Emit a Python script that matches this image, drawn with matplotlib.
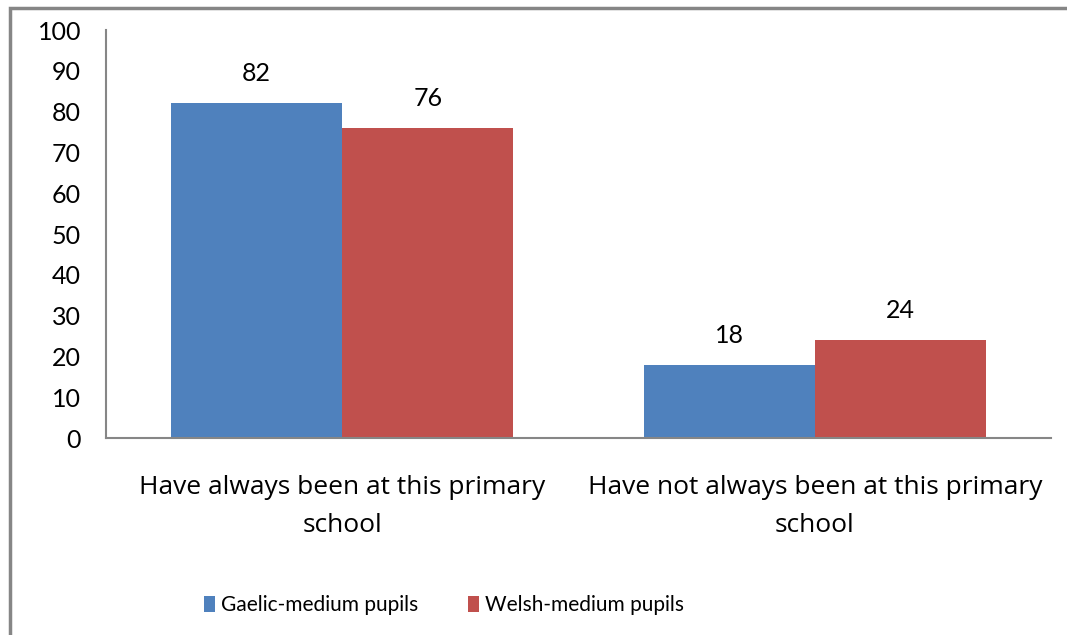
import matplotlib.pyplot as plt
from matplotlib.patches import Rectangle
import numpy as np

plt.rcParams['font.family'] = ['Lato', 'DejaVu Sans']

# Datos
categorias = ['Have always been at this primary\nschool',
              'Have not always been at this primary\nschool']
gaelic = [82, 18]
welsh = [76, 24]
series = ['Gaelic-medium pupils', 'Welsh-medium pupils']
colores = ['#4F81BD', '#C0504D']

fig = plt.figure(figsize=(10.67, 6.35), dpi=100)
ax = fig.add_axes([106 / 1067, 1 - 438 / 635, (1051 - 106) / 1067, (438 - 30) / 635])

x = np.arange(len(categorias))
w = 0.362
b1 = ax.bar(x - w / 2, gaelic, w, color=colores[0], label=series[0])
b2 = ax.bar(x + w / 2, welsh, w, color=colores[1], label=series[1])
ax.bar_label(b1, padding=13, fontsize=18)
ax.bar_label(b2, padding=13, fontsize=18)

ax.set_xlim(-0.5, 1.5)
ax.set_ylim(0, 100)
ax.set_yticks(range(0, 101, 10))
ax.set_xticks(x)
ax.set_xticklabels(categorias, fontsize=19, linespacing=1.65,
                   family=['Open Sans', 'DejaVu Sans'])
ax.tick_params(axis='y', length=0, labelsize=18, pad=18)
ax.tick_params(axis='x', length=0, pad=27)

for s in ['top', 'right']:
    ax.spines[s].set_visible(False)
for s in ['left', 'bottom']:
    ax.spines[s].set_color('#868686')
    ax.spines[s].set_linewidth(1.5)

# Borde exterior del gráfico
fig.patches.append(Rectangle((10 / 1067, -0.1), 1.2, 1 - 8 / 635 + 0.1,
                             transform=fig.transFigure, fill=False,
                             edgecolor='#868686', linewidth=2.5))

fig.legend(handles=[b1, b2], labels=series, loc='center', ncol=2,
           bbox_to_anchor=(444 / 1067, 1 - 605 / 635), frameon=False,
           fontsize=15, handlelength=0.53, handleheight=0.77,
           handletextpad=0.29, columnspacing=2.35)

fig.savefig('out.png', dpi=100)
